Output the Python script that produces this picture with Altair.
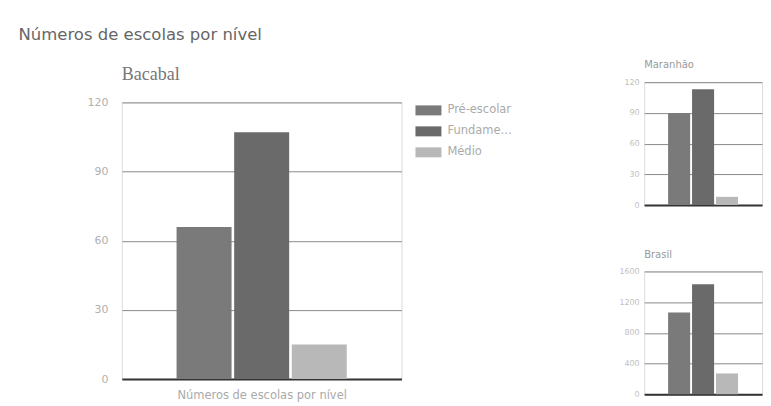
import altair as alt
import pandas as pd

niveis = ["Pré-escolar", "Fundamental", "Médio"]
bacabal = [66, 107, 15]
maranhao = [90, 113, 8]
brasil = [1065, 1432, 271]
bacabal_ticks = [0, 30, 60, 90, 120]
maranhao_ticks = [0, 30, 60, 90, 120]
brasil_ticks = [0, 400, 800, 1200, 1600]
cores = ["#7a7a7a", "#6a6a6a", "#b8b8b8"]


def frame(vals):
    return pd.DataFrame({"nivel": niveis, "valor": vals})


color_scale = alt.Scale(domain=niveis, range=cores)

big = alt.Chart(frame(bacabal)).mark_bar().encode(
    x=alt.X("nivel:N", sort=niveis,
            scale=alt.Scale(paddingInner=0.045, paddingOuter=0.95),
            axis=alt.Axis(labels=False, ticks=False, title="Números de escolas por nível",
                          titleFontSize=11.5, titleColor="#aaa", titleFontWeight="normal",
                          titlePadding=10.5, domainColor="#333", domainWidth=2)),
    y=alt.Y("valor:Q", scale=alt.Scale(domain=[0, 120], nice=False),
            axis=alt.Axis(values=bacabal_ticks, title=None, ticks=False, domain=False,
                          labelPadding=14, labelFontSize=11, labelColor="#b0b0b0",
                          gridColor="#8a8a8a", gridWidth=1)),
    color=alt.Color("nivel:N", sort=niveis, scale=color_scale,
                    legend=alt.Legend(orient="none", legendX=294, legendY=-5, title=None,
                                      symbolType="M-1,-0.385H1V0.385H-1Z", symbolSize=676,
                                      symbolStrokeWidth=0, labelFontSize=11.5, labelColor="#aaa",
                                      labelLimit=66, rowPadding=2, labelOffset=6)),
).properties(
    width=280, height=277,
    title=alt.TitleParams("Bacabal", anchor="start", frame="group", fontSize=18,
                          font="Liberation Serif", color="#777",
                          fontWeight="normal", offset=12.3),
)


def small(vals, ticks, dom):
    return alt.Chart(frame(vals)).mark_bar().encode(
        x=alt.X("nivel:N", sort=niveis,
                scale=alt.Scale(paddingInner=0.08, paddingOuter=1.0),
                axis=alt.Axis(labels=False, ticks=False, title=None,
                              domainColor="#333", domainWidth=2)),
        y=alt.Y("valor:Q", scale=alt.Scale(domain=dom, nice=False),
                axis=alt.Axis(values=ticks, format="d", title=None, ticks=False, domain=False,
                              labelFontSize=8, labelColor="#c0c0c0", labelPadding=5,
                              gridColor="#8a8a8a", gridWidth=1)),
        color=alt.Color("nivel:N", sort=niveis, scale=color_scale, legend=None),
    )


def titled(chart, name, off):
    return chart.properties(
        width=118, height=123,
        title=alt.TitleParams(name, anchor="start", frame="group", fontSize=10,
                              color="#999", fontWeight="normal", offset=off),
    )


mar = titled(small(maranhao, maranhao_ticks, [0, 120]), "Maranhão", 7.8)

bra_bars = small(brasil, brasil_ticks, [0, 1600])
bra_spacer = alt.Chart(frame(brasil)).mark_rule(opacity=0, strokeOpacity=0).encode(
    x=alt.value(0), x2=alt.value(1), y=alt.value(149), y2=alt.value(150)
)
bra = titled(alt.layer(bra_bars, bra_spacer), "Brasil", 7.2)

chart = alt.hconcat(
    big, alt.vconcat(mar, bra, spacing=39.5), spacing=105, center=True
).resolve_scale(color="independent").resolve_legend(color="independent").properties(
    title=alt.TitleParams("Números de escolas por nível", anchor="start", fontSize=16.5,
                          font="DejaVu Sans", color="#666", fontWeight="normal",
                          offset=16.7, dx=-68),
    padding={"left": 10, "top": 18, "right": 0, "bottom": 0},
).configure_view(stroke=None).configure(font="DejaVu Sans")

chart.save("out.html", embed_options={"renderer": "svg", "actions": False})
